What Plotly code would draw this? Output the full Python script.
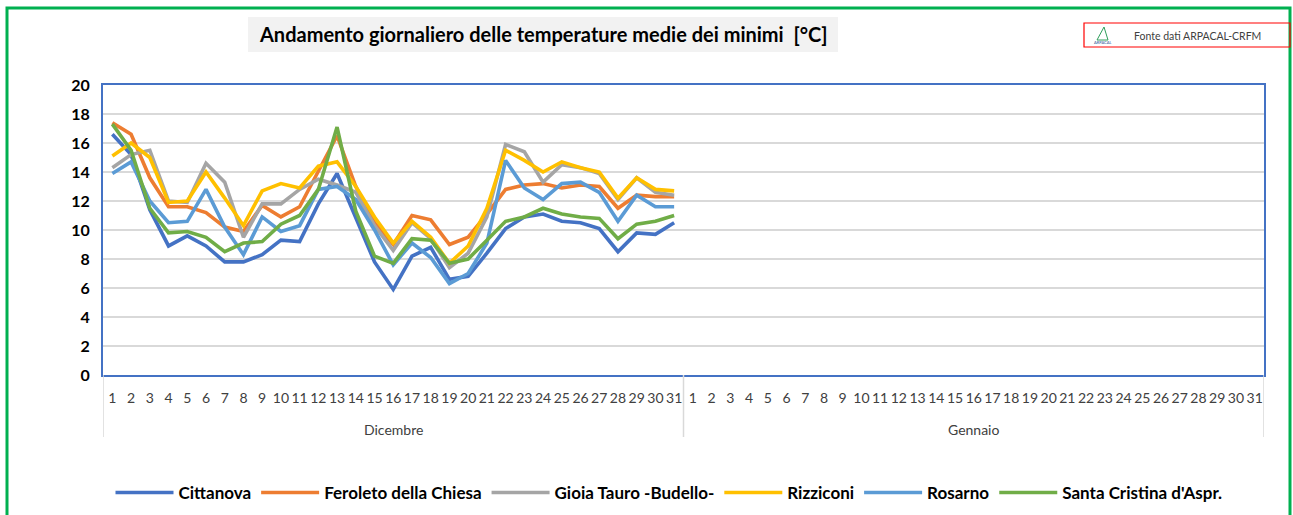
"""
Andamento giornaliero delle temperature medie dei minimi - ARPACAL
"""

import plotly.graph_objects as go

# data (Dicembre; Gennaio still empty)
days = [str(d) for d in range(1, 32)]
months = ["Dicembre", "Gennaio"]

cittanova = [16.6, 15.2, 11.4, 8.9, 9.6, 8.9, 7.8, 7.8, 8.3, 9.3, 9.2, 11.8, 13.9, 10.9, 7.8, 5.9,
             8.2, 8.8, 6.6, 6.8, 8.4, 10.1, 10.9, 11.1, 10.6, 10.5, 10.1, 8.5, 9.8, 9.7, 10.5]
feroleto = [17.4, 16.6, 13.6, 11.6, 11.6, 11.2, 10.2, 9.9, 11.7, 10.9, 11.6, 14.0, 16.5, 13.0, 10.5, 9.0,
            11.0, 10.7, 9.0, 9.5, 11.1, 12.8, 13.1, 13.2, 12.9, 13.1, 13.0, 11.5, 12.4, 12.3, 12.3]
gioia_tauro = [14.3, 15.2, 15.5, 12.0, 11.9, 14.6, 13.3, 9.5, 11.8, 11.8, 12.8, 13.5, 13.1, 12.6, 10.3, 8.6,
               10.5, 9.4, 7.4, 8.4, 10.9, 15.9, 15.4, 13.3, 14.5, 14.3, 13.9, 12.1, 13.6, 12.6, 12.4]
rizziconi = [15.1, 16.0, 15.0, 11.9, 12.0, 14.0, 12.2, 10.3, 12.7, 13.2, 12.9, 14.4, 14.7, 13.0, 10.9, 9.1,
             10.6, 9.5, 7.7, 8.9, 11.5, 15.5, 14.8, 14.0, 14.7, 14.3, 14.0, 12.2, 13.6, 12.8, 12.7]
rosarno = [13.9, 14.7, 12.0, 10.5, 10.6, 12.8, 10.2, 8.3, 10.9, 9.9, 10.3, 12.8, 13.0, 12.1, 10.0, 7.6,
           9.1, 8.1, 6.3, 7.0, 9.1, 14.8, 12.9, 12.1, 13.2, 13.3, 12.6, 10.6, 12.4, 11.6, 11.6]
santa_cristina = [17.3, 15.5, 11.5, 9.8, 9.9, 9.5, 8.5, 9.1, 9.2, 10.4, 11.0, 12.8, 17.1, 11.3, 8.2, 7.7,
                  9.4, 9.3, 7.7, 8.0, 9.3, 10.6, 10.9, 11.5, 11.1, 10.9, 10.8, 9.4, 10.4, 10.6, 11.0]
gennaio_empty = [None] * 31

stations = ["Cittanova", "Feroleto della Chiesa", "Gioia Tauro -Budello-", "Rizziconi",
            "Rosarno", "Santa Cristina d'Aspr."]
series = [cittanova, feroleto, gioia_tauro, rizziconi, rosarno, santa_cristina]
colors = ["#4472C4", "#ED7D31", "#A5A5A5", "#FFC000", "#5B9BD5", "#70AD47"]

FONT = "Lato"
W, H = 1293, 515
L, R, T, B = 103, 29, 85, 140


def px_x(x):
    # figure pixel -> paper x
    return (x - L) / (W - L - R)


def px_y(y):
    # figure pixel -> paper y
    return (H - B - y) / (H - T - B)


# two months of day slots on one axis: slot index -> day label
n_days = len(days)
slots = list(range(1, len(months) * n_days + 1))
slot_labels = days * len(months)

fig = go.Figure()
for name, vals, col in zip(stations, series, colors):
    fig.add_trace(go.Scatter(
        x=slots,
        y=vals + gennaio_empty,
        name=name,
        mode="lines",
        line=dict(color=col, width=3.6),
    ))

fig.update_xaxes(
    range=[0.5, len(slots) + 0.5],
    tickmode="array", tickvals=slots, ticktext=slot_labels,
    automargin=False,
    showgrid=False, zeroline=False,
    showline=True, mirror=True, linecolor="#4472C4", linewidth=2,
    ticks="",
    tickangle=0,
    ticklabelstandoff=9,
    tickfont=dict(family=FONT, size=14, color="#404040"),
)
fig.update_yaxes(
    range=[0, 20], dtick=2,
    automargin=False,
    showgrid=True, gridcolor="#D9D9D9", gridwidth=1.5,
    showline=True, mirror=True, linecolor="#4472C4", linewidth=2,
    zeroline=False,
    tickfont=dict(family=FONT, size=16, color="black", weight="bold"),
    ticklabelstandoff=8,
)

shapes = [
    # outer green frame
    dict(type="rect", xref="paper", yref="paper",
         x0=px_x(7), x1=px_x(1290), y0=px_y(530), y1=px_y(8),
         line=dict(color="#00B050", width=3), layer="below"),
    # title box
    dict(type="rect", xref="paper", yref="paper",
         x0=px_x(248), x1=px_x(838), y0=px_y(52), y1=px_y(17),
         fillcolor="#F2F2F2", line=dict(width=0), layer="below"),
    # source box
    dict(type="rect", xref="paper", yref="paper",
         x0=px_x(1084), x1=px_x(1290), y0=px_y(47), y1=px_y(23),
         line=dict(color="#FF0000", width=1.2)),
    # little logo
    dict(type="path", xref="paper", yref="paper",
         path=f"M {px_x(1097)} {px_y(40)} L {px_x(1104)} {px_y(27)} L {px_x(1108)} {px_y(40)} Z",
         line=dict(color="#2E9E5B", width=1), fillcolor="rgba(0,0,0,0)"),
]
# month dividers under the axis
for k in range(len(months) + 1):
    shapes.append(dict(type="line", xref="x", yref="paper",
                       x0=k * n_days + 0.5, x1=k * n_days + 0.5, y0=0, y1=px_y(437),
                       line=dict(color="#D9D9D9", width=1.5)))

annotations = [
    dict(text="Andamento giornaliero delle temperature medie dei minimi  [°C]",
         xref="paper", yref="paper", x=px_x(543), y=px_y(34.5),
         showarrow=False, xanchor="center", yanchor="middle",
         font=dict(family=FONT, size=20, color="black", weight="bold")),
    dict(text="Fonte dati ARPACAL-CRFM",
         xref="paper", yref="paper", x=px_x(1132), y=px_y(36),
         showarrow=False, xanchor="left", yanchor="middle",
         font=dict(family=FONT, size=10.5, color="#404040")),
    dict(text="ARPACAL",
         xref="paper", yref="paper", x=px_x(1103), y=px_y(43),
         showarrow=False, xanchor="center", yanchor="middle",
         font=dict(family=FONT, size=4, color="#2F5597")),
]
# month names centred under their days
for k, m in enumerate(months):
    annotations.append(dict(text=m, xref="x", yref="paper",
                            x=k * n_days + (n_days + 1) / 2, y=px_y(429),
                            showarrow=False, xanchor="center", yanchor="middle",
                            font=dict(family=FONT, size=14, color="#404040")))

fig.update_layout(
    width=W, height=H,
    margin=dict(l=L, r=R, t=T, b=B, autoexpand=False),
    paper_bgcolor="white", plot_bgcolor="white",
    shapes=shapes,
    annotations=annotations,
    showlegend=True,
    legend=dict(
        orientation="h", xref="container", x=669 / W, xanchor="center",
        y=px_y(493), yanchor="middle",
        font=dict(family=FONT, size=17, color="black", weight="bold"),
        itemwidth=58, traceorder="normal",
    ),
)

# page body has a default 8px margin; drop it so the figure sits at the window corner
fig.write_html("out.html", config={"displayModeBar": False},
               post_script="document.body.style.margin='0px';")
